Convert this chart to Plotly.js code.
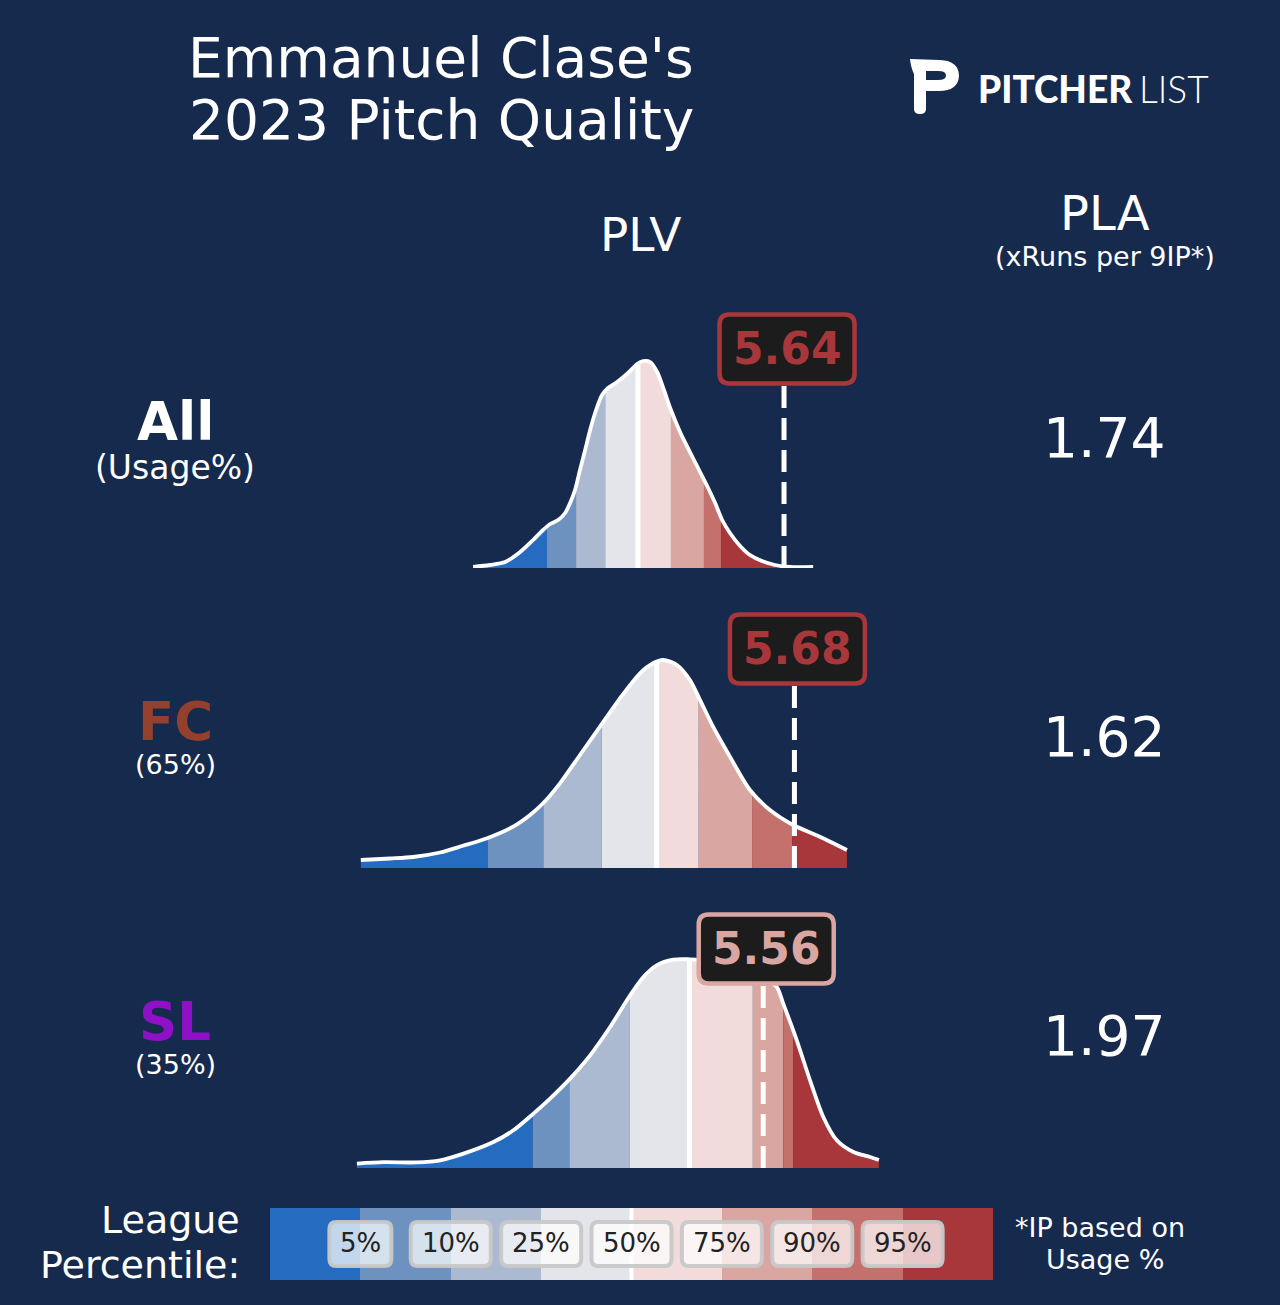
<!DOCTYPE html>
<html><head><meta charset="utf-8">
<script src="https://cdn.plot.ly/plotly-3.0.1.min.js"></script>
<style>html,body{margin:0;padding:0;background:#162a4e;}#chart{width:1280px;height:1305px;}</style>
</head><body><div id="chart"></div>
<script>
// ---------------- data ----------------
const pitchTypes = ['All', 'FC', 'SL'];
const usageLabels = ['(Usage%)', '(65%)', '(35%)'];
const pitchColors = ['#ffffff', '#93402d', '#9010c8'];
const plvValues = [5.64, 5.68, 5.56];
const plaValues = ['1.74', '1.62', '1.97'];
const percentileLabels = ['5%', '10%', '25%', '50%', '75%', '90%', '95%'];
const bandColors = ['#256cc1', '#6e92c0', '#abbad0', '#e4e5ea', '#f2dcdb', '#d9a6a2', '#c4706c', '#a8373b'];

// league PLV density (relative) for each pitch group
const allPLV = [4.444, 4.509, 4.567, 4.625, 4.675, 4.713, 4.740, 4.771, 4.798, 4.817,
  4.836, 4.855, 4.875, 4.894, 4.917, 4.940, 4.963, 4.998, 5.040, 5.075,
  5.098, 5.125, 5.152, 5.178, 5.205, 5.240, 5.278, 5.317, 5.348, 5.375,
  5.402, 5.432, 5.471, 5.509, 5.555, 5.605, 5.663, 5.752];
const allDensity = [0.01, 0.03, 0.06, 0.16, 0.28, 0.38, 0.44, 0.48, 0.55, 0.65,
  0.78, 0.98, 1.18, 1.38, 1.58, 1.73, 1.80, 1.86, 1.95, 2.04,
  2.07, 2.06, 1.96, 1.78, 1.58, 1.36, 1.16, 0.96, 0.80, 0.65,
  0.48, 0.35, 0.22, 0.13, 0.07, 0.03, 0.01, 0.01];
const allCuts = [4.728, 4.840, 4.952, 5.078, 5.205, 5.332, 5.398];

const fcPLV = [4.012, 4.125, 4.213, 4.317, 4.405, 4.498, 4.598, 4.663, 4.713, 4.778,
  4.855, 4.932, 5.009, 5.086, 5.136, 5.175, 5.228, 5.278, 5.317, 5.367,
  5.432, 5.509, 5.586, 5.675, 5.778, 5.882];
const fcDensity = [0.080, 0.095, 0.110, 0.155, 0.222, 0.298, 0.413, 0.530, 0.647, 0.847,
  1.130, 1.413, 1.697, 1.947, 2.047, 2.080, 2.030, 1.880, 1.680, 1.413,
  1.113, 0.780, 0.580, 0.430, 0.313, 0.180];
const fcCuts = [4.500, 4.714, 4.939, 5.150, 5.312, 5.517, 5.671];

const slPLV = [3.997, 4.099, 4.227, 4.317, 4.407, 4.522, 4.599, 4.676, 4.740, 4.817,
  4.894, 4.971, 5.048, 5.099, 5.150, 5.214, 5.278, 5.355, 5.432, 5.509,
  5.567, 5.612, 5.637, 5.689, 5.740, 5.791, 5.843, 5.907, 5.971, 6.005];
const slDensity = [0.044, 0.058, 0.056, 0.077, 0.144, 0.260, 0.377, 0.544, 0.694, 0.894,
  1.127, 1.410, 1.727, 1.910, 2.027, 2.084, 2.087, 2.075, 2.040, 1.970,
  1.890, 1.810, 1.644, 1.277, 0.877, 0.510, 0.277, 0.160, 0.110, 0.080];
const slCuts = [4.673, 4.814, 5.045, 5.276, 5.520, 5.637, 5.676];

// ---------------- helpers ----------------
const W = 1280, H = 1305;
const fx = p => p / W;
const fy = p => 1 - p / H;
const FONT = 'DejaVu Sans';
const BG = '#162a4e';

function interp(xs, ys, x) {
  if (x <= xs[0]) return ys[0];
  for (let i = 1; i < xs.length; i++) {
    if (x <= xs[i]) {
      const t = (x - xs[i - 1]) / (xs[i] - xs[i - 1]);
      return ys[i - 1] + t * (ys[i] - ys[i - 1]);
    }
  }
  return ys[ys.length - 1];
}
function roundRect(x0, y0, x1, y1, r) {
  return `M ${x0 + r},${y0} L ${x1 - r},${y0} Q ${x1},${y0} ${x1},${y0 + r} L ${x1},${y1 - r} Q ${x1},${y1} ${x1 - r},${y1} L ${x0 + r},${y1} Q ${x0},${y1} ${x0},${y1 - r} L ${x0},${y0 + r} Q ${x0},${y0} ${x0 + r},${y0} Z`;
}
function bandIndex(cuts, v) {
  let i = 0;
  while (i < cuts.length && v > cuts[i]) i++;
  return i;
}

const series = [
  {x: allPLV, d: allDensity, cuts: allCuts},
  {x: fcPLV, d: fcDensity, cuts: fcCuts},
  {x: slPLV, d: slDensity, cuts: slCuts}
];
const baselinesPx = [568, 868, 1168];
const boxY = 2.19;

const traces = [];
const shapes = [];
const annotations = [];
const layout = {
  width: W, height: H,
  margin: {l: 0, r: 0, t: 0, b: 0},
  paper_bgcolor: BG, plot_bgcolor: 'rgba(0,0,0,0)',
  showlegend: false, hovermode: false,
  bargap: 0,
  font: {family: FONT, color: '#ffffff'}
};

series.forEach((s, k) => {
  const sfx = k === 0 ? '' : String(k + 1);
  const xa = 'x' + sfx, ya = 'y' + sfx;
  layout['xaxis' + sfx] = {domain: [fx(300), fx(940)], range: [3.778, 6.240], visible: false, fixedrange: true};
  layout['yaxis' + sfx] = {domain: [fy(baselinesPx[k]), fy(baselinesPx[k] - 260)], range: [0, 2.6], visible: false, fixedrange: true};

  const xmin = s.x[0], xmax = s.x[s.x.length - 1];
  // percentile bands
  for (let b = 0; b < 8; b++) {
    const lo = b === 0 ? xmin : s.cuts[b - 1];
    const hi = b === 7 ? xmax : s.cuts[b];
    const bx = [lo], by = [interp(s.x, s.d, lo)];
    s.x.forEach((xv, i) => { if (xv > lo && xv < hi) { bx.push(xv); by.push(s.d[i]); } });
    bx.push(hi); by.push(interp(s.x, s.d, hi));
    traces.push({type: 'scatter', mode: 'lines', x: bx, y: by, xaxis: xa, yaxis: ya,
      fill: 'tozeroy', fillcolor: bandColors[b], line: {width: 0, shape: 'spline', smoothing: 0.8, color: bandColors[b]}});
  }
  // median line
  const med = s.cuts[3];
  traces.push({type: 'scatter', mode: 'lines', x: [med, med], y: [0, interp(s.x, s.d, med)], xaxis: xa, yaxis: ya,
    line: {color: '#ffffff', width: 5}});
  // outline
  traces.push({type: 'scatter', mode: 'lines', x: s.x, y: s.d, xaxis: xa, yaxis: ya,
    line: {color: '#ffffff', width: 3.8, shape: 'spline', smoothing: 0.8}});

  // pitcher value marker
  const v = plvValues[k];
  const c = bandColors[bandIndex(s.cuts, v)];
  shapes.push({type: 'line', xref: xa, yref: ya, x0: v, x1: v, y0: 0, y1: boxY,
    line: {color: '#ffffff', width: 5, dash: '22px,10px'}});
  shapes.push({type: 'path', xref: xa, yref: ya, xsizemode: 'pixel', ysizemode: 'pixel',
    xanchor: v, yanchor: boxY, path: roundRect(-64.5, -34.5, 70.5, 34.5, 10),
    fillcolor: '#1c1c1c', line: {color: c, width: 4.5}});
  annotations.push({xref: xa, yref: ya, x: v, y: boxY, xshift: 3, yshift: 1, text: '<b>' + v.toFixed(2) + '</b>',
    showarrow: false, xanchor: 'center', yanchor: 'middle', font: {family: FONT, size: 44, color: c}});

  // left labels
  const rowY = [422, 721, 1021][k];
  annotations.push({xref: 'paper', yref: 'paper', x: fx(175), y: fy(rowY), text: '<b>' + pitchTypes[k] + '</b>',
    showarrow: false, xanchor: 'center', yanchor: 'middle', font: {family: FONT, size: 53, color: pitchColors[k]}});
  const subY = [467, 765, 1064][k];
  annotations.push({xref: 'paper', yref: 'paper', x: fx(175), y: fy(subY), text: usageLabels[k],
    showarrow: false, xanchor: 'center', yanchor: 'middle', font: {family: FONT, size: k === 0 ? 33 : 27, color: '#ffffff'}});
  // PLA
  const plaY = [438, 737, 1036][k];
  annotations.push({xref: 'paper', yref: 'paper', x: fx(1104), y: fy(plaY), text: plaValues[k],
    showarrow: false, xanchor: 'center', yanchor: 'middle', font: {family: FONT, size: 55, color: '#ffffff'}});
});

// ---------------- legend bar ----------------
layout.xaxis4 = {domain: [fx(270), fx(993)], range: [-0.5, 7.5], visible: false, fixedrange: true};
layout.yaxis4 = {domain: [fy(1280), fy(1208)], range: [0, 1], visible: false, fixedrange: true};
traces.push({type: 'bar', x: [0, 1, 2, 3, 4, 5, 6, 7], y: [1, 1, 1, 1, 1, 1, 1, 1], width: [1, 1, 1, 1, 1, 1, 1, 1],
  xaxis: 'x4', yaxis: 'y4', marker: {color: bandColors, line: {width: 0}}});
shapes.push({type: 'line', xref: 'x4', yref: 'y4', x0: 3.5, x1: 3.5, y0: 0, y1: 1, line: {color: '#ffffff', width: 4}});
percentileLabels.forEach((lab, i) => {
  const w = lab.length === 2 ? 62 : 80;
  shapes.push({type: 'path', xref: 'x4', yref: 'y4', xsizemode: 'pixel', ysizemode: 'pixel',
    xanchor: i + 0.5, yanchor: 0.5, path: roundRect(-w / 2, -22, w / 2, 22, 7),
    fillcolor: 'rgba(255,255,255,0.72)', line: {color: 'rgba(200,200,200,0.95)', width: 4}});
  annotations.push({xref: 'x4', yref: 'y4', x: i + 0.5, y: 0.5, yshift: 1, text: lab, showarrow: false,
    xanchor: 'center', yanchor: 'middle', font: {family: FONT, size: 26, color: '#222222'}});
});

// ---------------- texts ----------------
function txt(x, y, text, size, opts) {
  annotations.push(Object.assign({xref: 'paper', yref: 'paper', x: fx(x), y: fy(y), text: text, showarrow: false,
    xanchor: 'center', yanchor: 'middle', font: {family: FONT, size: size, color: '#ffffff'}}, opts || {}));
}
txt(441, 58, "Emmanuel Clase's", 55);
txt(441, 120, '2023 Pitch Quality', 55);
txt(641, 235, 'PLV', 47);
txt(1105, 213, 'PLA', 48);
txt(1105, 256, '(xRuns per 9IP*)', 27);
txt(242, 1220, 'League', 38, {xanchor: 'right'});
txt(242, 1265, 'Percentile:', 38, {xanchor: 'right'});
txt(1100, 1227, '*IP based on', 27);
txt(1105, 1259, 'Usage %', 27);
// logo text
txt(1135, 89, 'PITCHER', 37, {xanchor: 'right', font: {family: 'Lato', size: 37, color: '#ffffff', weight: 900}});
txt(1137, 89, 'LIST', 37, {xanchor: 'left', font: {family: 'Lato', size: 37, color: '#ffffff', weight: 300}});

// logo "P" mark
function P(x, y) { return fx(x).toFixed(5) + ',' + fy(y).toFixed(5); }
const logoOuter = `M ${P(910, 59)} L ${P(940, 60)} Q ${P(959, 61)} ${P(959, 76)} Q ${P(958, 91)} ${P(939, 91)} L ${P(926, 91)} L ${P(926, 109)} Q ${P(926, 114)} ${P(920, 114)} Q ${P(914, 114)} ${P(914, 109)} L ${P(914, 74)} Q ${P(911, 68)} ${P(910, 59)} Z`;
const logoInner = `M ${P(926, 71)} L ${P(938, 71)} Q ${P(946, 71)} ${P(946, 75.5)} Q ${P(946, 80)} ${P(938, 80)} L ${P(926, 80)} Z`;
shapes.push({type: 'path', xref: 'paper', yref: 'paper', path: logoOuter, fillcolor: '#ffffff', line: {width: 0}});
shapes.push({type: 'path', xref: 'paper', yref: 'paper', path: logoInner, fillcolor: BG, line: {width: 0}});

layout.shapes = shapes;
layout.annotations = annotations;
Plotly.newPlot('chart', traces, layout, {staticPlot: true, displayModeBar: false});
</script></body></html>
